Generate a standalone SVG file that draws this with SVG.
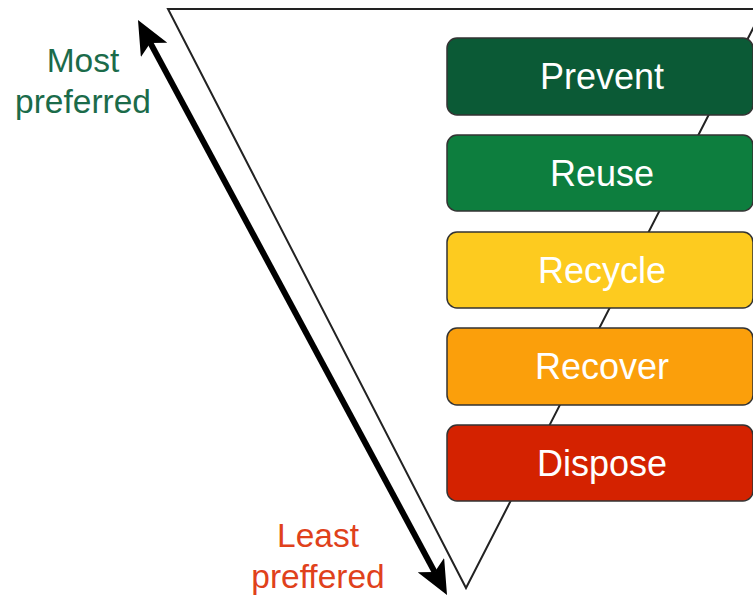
<svg xmlns="http://www.w3.org/2000/svg" width="753" height="596" viewBox="0 0 753 596">
<defs>
<style>
.box{stroke:#333;stroke-width:1.5}
.lbl{font-family:"Liberation Sans",Arial,sans-serif;font-size:36px;fill:#fff;text-anchor:middle;dominant-baseline:central}
.side{font-family:"Liberation Sans",Arial,sans-serif;font-size:33.5px;text-anchor:middle}
</style>
<marker id="ah" viewBox="0 0 34 30" refX="8" refY="15" markerWidth="34" markerHeight="30" orient="auto-start-reverse" markerUnits="userSpaceOnUse">
<path d="M0,0 L34,15 L0,30 L8,15 z" fill="#000"/>
</marker>
</defs>
<rect width="753" height="596" fill="#fff"/>
<g id="triangle">
<polygon points="168,9 763,9 466,588" fill="#fff" stroke="#222" stroke-width="2"/>
</g>
<g id="connectors">
<line x1="150.3" y1="42.9" x2="434.7" y2="572.1" stroke="#000" stroke-width="6" marker-start="url(#ah)" marker-end="url(#ah)"/>
</g>
<g id="prevent">
<rect class="box" x="447" y="38" width="306" height="77" rx="10" fill="#0b5a36"/>
<text class="lbl" x="602" y="76">Prevent</text>
</g>
<g id="reuse">
<rect class="box" x="447" y="135" width="306" height="76" rx="10" fill="#0d7e3e"/>
<text class="lbl" x="602" y="173">Reuse</text>
</g>
<g id="recycle">
<rect class="box" x="447" y="232" width="306" height="76" rx="10" fill="#fdcb1f"/>
<text class="lbl" x="602" y="270">Recycle</text>
</g>
<g id="recover">
<rect class="box" x="447" y="328" width="306" height="77" rx="10" fill="#fb9f0b"/>
<text class="lbl" x="602" y="366">Recover</text>
</g>
<g id="dispose">
<rect class="box" x="447" y="425" width="306" height="76" rx="10" fill="#d42200"/>
<text class="lbl" x="602" y="463">Dispose</text>
</g>
<g id="most-preferred">
<text class="side" fill="#1b6b4a" x="83" y="72">Most</text>
<text class="side" fill="#1b6b4a" x="83" y="113">preferred</text>
</g>
<g id="least-preferred">
<text class="side" fill="#e0411b" x="318" y="547">Least</text>
<text class="side" fill="#e0411b" x="318" y="588">preffered</text>
</g>
</svg>
